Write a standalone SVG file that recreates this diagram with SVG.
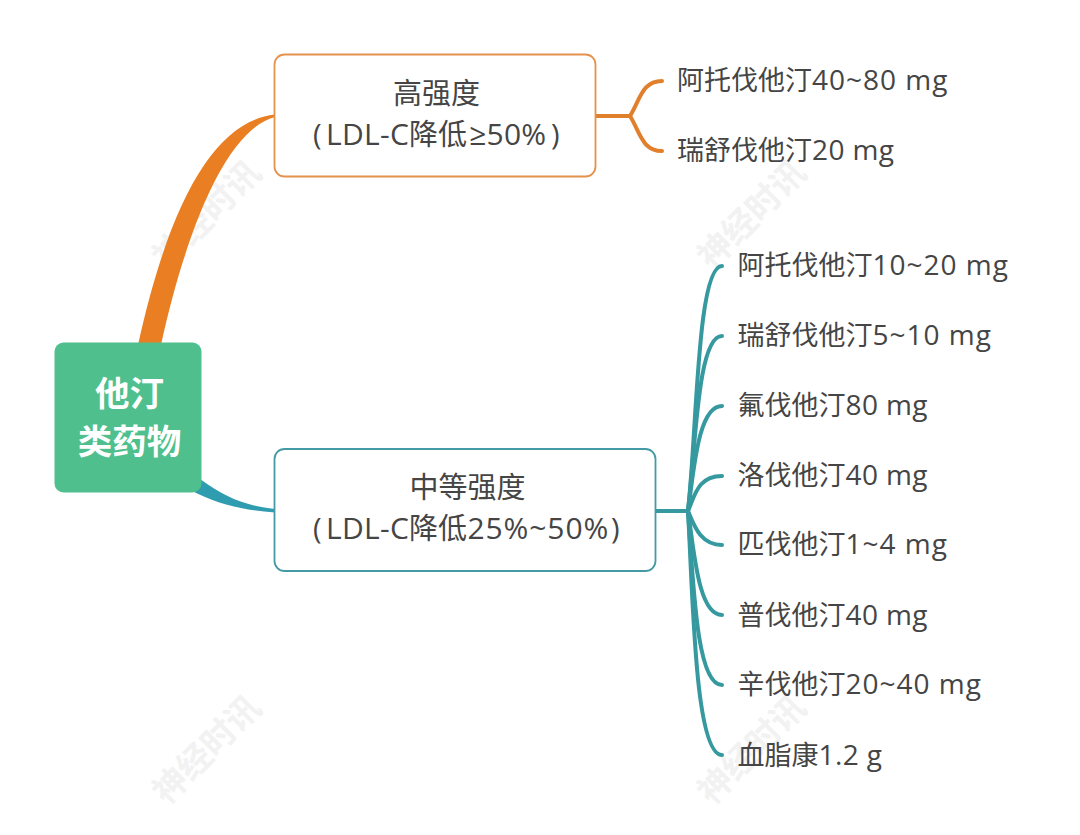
<svg xmlns="http://www.w3.org/2000/svg" width="1080" height="835" viewBox="0 0 1080 835">
<style>
text{font-family:"Open Sans","Noto Sans CJK SC","Noto Sans",sans-serif;fill:#454545;}
.leaf{font-size:27px;}
.leaf tspan{font-size:28px;letter-spacing:.4px;}
.leaf tspan.r{letter-spacing:1px;}
.box{font-size:29px;text-anchor:middle;}
.sub{font-size:29px;}
.sub .lat{font-size:30px;letter-spacing:.3px;}
.sub .wide{font-size:30px;letter-spacing:.9px;}
.root{font-size:34.500px;font-weight:700;fill:#fff;text-anchor:middle;}
.wm{font-size:34px;fill:#f2f2f2;text-anchor:middle;font-weight:700;}
.or{fill:none;stroke:#e0802c;stroke-width:4;stroke-linecap:round;}
.te{fill:none;stroke:#35999f;stroke-width:4;stroke-linecap:round;}
</style>
<rect width="1080" height="835" fill="#fff"/>
<g id="watermarks">
<text class="wm" transform="translate(215,223) rotate(-45)">神经时讯</text>
<text class="wm" transform="translate(760,223) rotate(-45)">神经时讯</text>
<text class="wm" transform="translate(215,758) rotate(-45)">神经时讯</text>
<text class="wm" transform="translate(760,758) rotate(-45)">神经时讯</text>
</g>
<g id="connectors">
<path fill="#e97f22" d="M275,114.500C215,121 170,200 138,345L161,345C185,235 225,130 275,117Z"/>
<path fill="#2f9cb0" d="M190,490C215,503 240,510 275,512.500L275,509C245,506 225,497 200,479Z"/>
<path class="or" d="M596,116H630"/>
<path class="or" d="M630,116C640,100 642,81 662,81"/>
<path class="or" d="M630,116C640,132 642,151 662,151"/>
<path class="te" d="M656,511H688"/>
<path class="te" d="M688,511C697,430 697,266 722,266"/>
<path class="te" d="M688,511C696,440 698,336 722,336"/>
<path class="te" d="M688,511C694,470 698,406 722,406"/>
<path class="te" d="M688,511C695,495 698,476 722,476"/>
<path class="te" d="M688,511C694,525 700,545 722,545"/>
<path class="te" d="M688,511C694,550 698,615 722,615"/>
<path class="te" d="M688,511C694,600 698,685 722,685"/>
<path class="te" d="M688,511C693,600 695,755 722,755"/>
</g>
<g id="root">
<rect x="54.500" y="342.500" width="147" height="150" rx="9" fill="#4fc08d"/>
<text class="root" x="129.500" y="406">他汀</text>
<text class="root" x="129.500" y="454">类药物</text>
</g>
<g id="high">
<rect x="274.500" y="54.500" width="321" height="122" rx="10" fill="#fff" stroke="#e4924c" stroke-width="1.800"/>
<text class="box" x="436.500" y="104">高强度</text>
<text class="sub" y="145"><tspan x="313">(</tspan><tspan x="326" class="lat">LDL-C</tspan><tspan x="409">降低</tspan><tspan x="469" class="lat">≥50%</tspan><tspan x="551">)</tspan></text>
</g>
<g id="mid">
<rect x="274.500" y="449" width="381" height="122" rx="10" fill="#fff" stroke="#459ba5" stroke-width="1.800"/>
<text class="box" x="467.500" y="498">中等强度</text>
<text class="sub" y="539"><tspan x="313">(</tspan><tspan x="326" class="lat">LDL-C</tspan><tspan x="409">降低</tspan><tspan x="467.500" class="wide">25%~50%</tspan><tspan x="611">)</tspan></text>
</g>
<g id="leaves">
<text class="leaf" id="l1" x="677" y="90">阿托伐他汀<tspan class="r">40~80 mg</tspan></text>
<text class="leaf" id="l2" x="677" y="160">瑞舒伐他汀<tspan>20 mg</tspan></text>
<text class="leaf" id="l3" x="737.500" y="275">阿托伐他汀<tspan class="r">10~20 mg</tspan></text>
<text class="leaf" id="l4" x="737.500" y="345">瑞舒伐他汀<tspan class="r">5~10 mg</tspan></text>
<text class="leaf" id="l5" x="737.500" y="415">氟伐他汀<tspan>80 mg</tspan></text>
<text class="leaf" id="l6" x="737.500" y="485">洛伐他汀<tspan>40 mg</tspan></text>
<text class="leaf" id="l7" x="737.500" y="554">匹伐他汀<tspan class="r">1~4 mg</tspan></text>
<text class="leaf" id="l8" x="737.500" y="625">普伐他汀<tspan>40 mg</tspan></text>
<text class="leaf" id="l9" x="737.500" y="694">辛伐他汀<tspan class="r">20~40 mg</tspan></text>
<text class="leaf" id="l10" x="737.500" y="765">血脂康<tspan>1.2 g</tspan></text>
</g>
</svg>
